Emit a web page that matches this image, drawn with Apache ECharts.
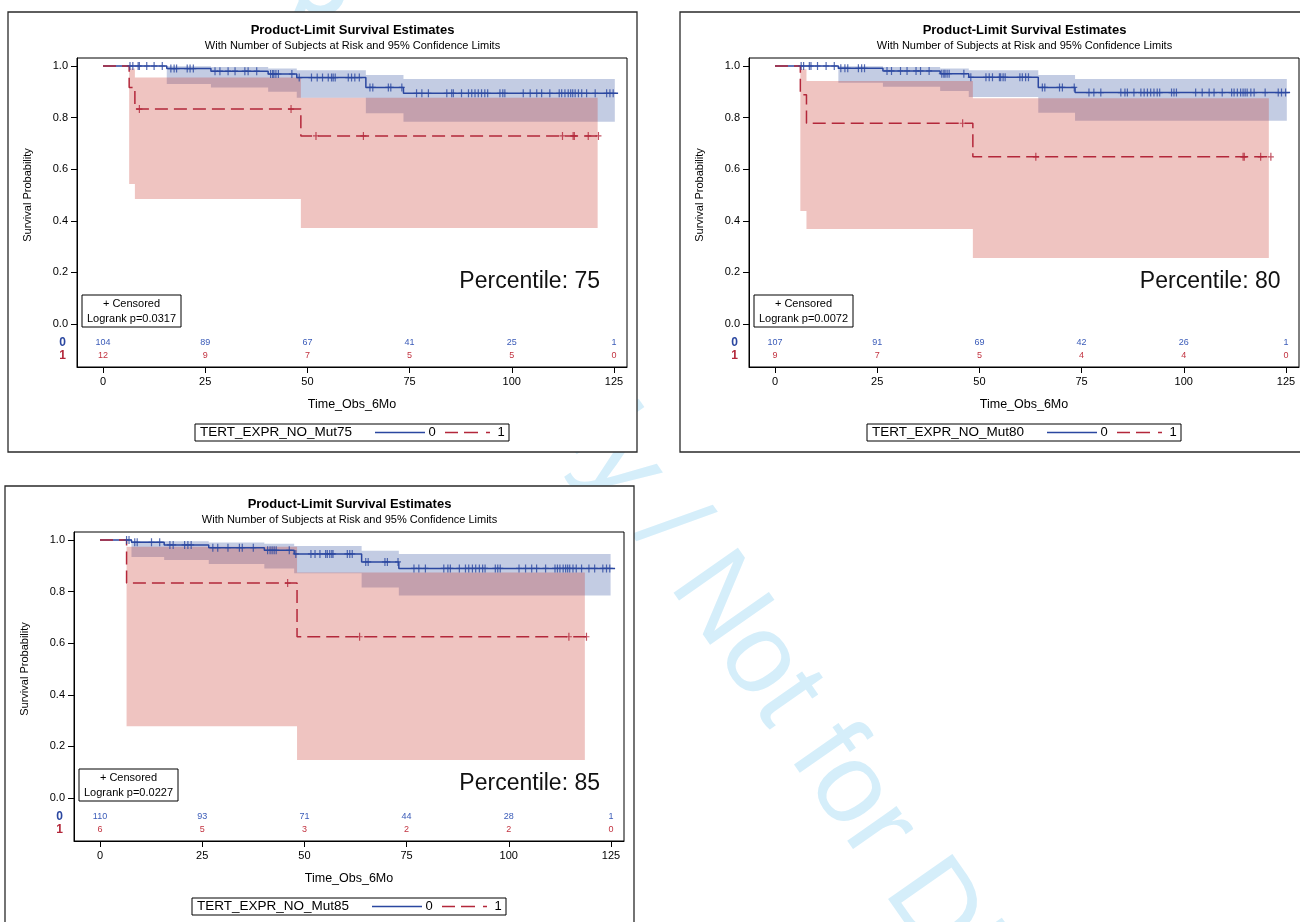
<!DOCTYPE html>
<html><head><meta charset="utf-8">
<script src="https://cdn.jsdelivr.net/npm/echarts@6/dist/echarts.min.js"></script>
<style>html,body{margin:0;padding:0;background:#fff}#c{width:1300px;height:922px}</style>
</head><body><div id="c"></div><script>
// ---------- shared axis data ----------
const xTicks = [0, 25, 50, 75, 100, 125];
const yTicks = [0, 0.2, 0.4, 0.6, 0.8, 1.0];
const riskGroups = ['0', '1'];
const xTitle = 'Time_Obs_6Mo';
const yTitle = 'Survival Probability';
const mainTitle = 'Product-Limit Survival Estimates';
const subTitle = 'With Number of Subjects at Risk and 95% Confidence Limits';
const watermarkA = 'For Peer Review Only / ';
const watermarkB = 'Not for Distribution';

// ---------- Panel A : Mut75 ----------
const a_legend = 'TERT_EXPR_NO_Mut75';
const a_logrank = 'Logrank p=0.0317';
const a_percentile = 'Percentile: 75';
const a_blueTime = [0, 15.6, 26.4, 40.4, 47.4, 64.3, 73.5, 126.0];
const a_blueSurv = [1.0, 0.990, 0.980, 0.969, 0.955, 0.917, 0.894, 0.894];
const a_blueBandStart = [15.6, 26.4, 40.4, 47.4, 64.3, 73.5];
const a_blueBandLow = [0.930, 0.917, 0.900, 0.877, 0.817, 0.784];
const a_blueBandUp = [0.999, 0.996, 0.990, 0.984, 0.965, 0.950];
const a_blueBandEnd = 125.2;
const a_redTime = [0, 6.4, 7.8, 48.4, 121.6];
const a_redSurv = [1.0, 0.917, 0.833, 0.729, 0.729];
const a_redBandStart = [6.4, 7.8, 48.4];
const a_redBandLow = [0.543, 0.484, 0.372];
const a_redBandUp = [0.990, 0.955, 0.877];
const a_redBandEnd = 121.0;
const a_blueCensor = [6.6, 7.3, 8.6, 8.9, 10.7, 12.5, 14.5, 16.6, 17.4, 18.0, 20.6, 21.3, 22.1, 27.4, 28.6, 30.6, 32.3, 34.7, 35.5, 37.6, 41.0, 41.5, 41.8, 42.3, 42.9, 46.2, 48.0, 51.0, 52.4, 53.7, 55.1, 55.9, 56.3, 56.8, 60.0, 60.8, 61.6, 62.7, 65.3, 66.0, 69.8, 70.4, 73.1, 76.7, 78.0, 79.6, 84.1, 85.3, 85.7, 87.7, 89.4, 90.2, 91.0, 91.8, 92.6, 93.4, 94.1, 97.1, 97.8, 98.3, 102.8, 104.5, 106.1, 107.3, 109.3, 111.6, 112.2, 113.0, 113.8, 114.4, 114.9, 115.5, 116.3, 117.1, 118.3, 120.4, 123.2, 124.0, 124.8];
const a_redCensor = [8.9, 46.0, 52.1, 63.7, 112.4, 115.0, 115.3, 118.7, 121.2];
const a_riskBlue = [104, 89, 67, 41, 25, 1];
const a_riskRed = [12, 9, 7, 5, 5, 0];

// ---------- Panel B : Mut80 ----------
const b_legend = 'TERT_EXPR_NO_Mut80';
const b_logrank = 'Logrank p=0.0072';
const b_percentile = 'Percentile: 80';
const b_blueTime = [0, 15.5, 26.4, 40.4, 47.4, 64.4, 73.4, 126.0];
const b_blueSurv = [1.0, 0.991, 0.981, 0.970, 0.956, 0.917, 0.897, 0.897];
const b_blueBandStart = [15.5, 26.4, 40.4, 47.4, 64.4, 73.4];
const b_blueBandLow = [0.935, 0.920, 0.903, 0.880, 0.819, 0.788];
const b_blueBandUp = [0.999, 0.996, 0.990, 0.984, 0.965, 0.950];
const b_blueBandEnd = 125.2;
const b_redTime = [0, 6.2, 7.7, 48.4, 121.5];
const b_redSurv = [1.0, 0.889, 0.778, 0.648, 0.648];
const b_redBandStart = [6.2, 7.7, 48.4];
const b_redBandLow = [0.438, 0.368, 0.256];
const b_redBandUp = [0.987, 0.942, 0.875];
const b_redBandEnd = 120.8;
const b_blueCensor = [6.4, 7.0, 8.4, 8.8, 10.4, 12.5, 14.5, 16.1, 17.1, 17.8, 20.4, 21.2, 21.9, 27.4, 28.5, 30.7, 32.3, 34.5, 35.6, 37.7, 40.8, 41.3, 41.6, 42.1, 42.6, 46.2, 47.9, 51.6, 52.4, 53.2, 54.9, 55.2, 55.8, 56.3, 59.9, 60.5, 61.3, 62.0, 65.4, 66.0, 69.6, 70.3, 73.2, 76.8, 78.0, 79.7, 84.6, 85.6, 86.2, 87.8, 89.5, 90.3, 91.1, 91.9, 92.7, 93.5, 94.1, 97.0, 97.6, 98.2, 102.9, 104.5, 106.2, 107.4, 109.4, 111.7, 112.3, 113.1, 113.9, 114.5, 115.0, 115.5, 116.4, 117.2, 119.9, 123.1, 123.9, 124.9];
const b_redCensor = [45.9, 63.8, 114.5, 114.8, 118.8, 121.3];
const b_riskBlue = [107, 91, 69, 42, 26, 1];
const b_riskRed = [9, 7, 5, 4, 4, 0];

// ---------- Panel C : Mut85 ----------
const c_legend = 'TERT_EXPR_NO_Mut85';
const c_logrank = 'Logrank p=0.0227';
const c_percentile = 'Percentile: 85';
const c_blueTime = [0, 7.7, 15.7, 26.6, 40.2, 47.5, 64.0, 73.1, 126.0];
const c_blueSurv = [1.0, 0.991, 0.981, 0.970, 0.960, 0.946, 0.915, 0.890, 0.890];
const c_blueBandStart = [7.7, 15.7, 26.6, 40.2, 47.5, 64.0, 73.1];
const c_blueBandLow = [0.934, 0.922, 0.907, 0.890, 0.871, 0.816, 0.785];
const c_blueBandUp = [0.996, 0.995, 0.990, 0.985, 0.977, 0.958, 0.946];
const c_blueBandEnd = 124.9;
const c_redTime = [0, 6.5, 48.2, 119.2];
const c_redSurv = [1.0, 0.833, 0.625, 0.625];
const c_redBandStart = [6.5, 48.2];
const c_redBandLow = [0.278, 0.147];
const c_redBandUp = [0.974, 0.874];
const c_redBandEnd = 118.6;
const c_blueCensor = [6.5, 7.1, 8.5, 9.1, 12.6, 14.6, 17.1, 17.9, 20.7, 21.5, 22.3, 27.6, 28.8, 31.3, 34.1, 34.8, 37.5, 41.0, 41.6, 42.1, 42.6, 43.1, 46.3, 47.9, 51.6, 52.6, 53.8, 55.2, 55.6, 56.2, 56.7, 57.0, 60.5, 61.1, 61.7, 65.0, 65.6, 69.7, 70.3, 72.9, 76.8, 78.0, 79.6, 84.1, 85.1, 85.7, 87.9, 89.4, 90.2, 91.1, 91.9, 92.8, 93.6, 94.2, 96.7, 97.3, 97.9, 102.5, 104.1, 105.6, 106.8, 109.0, 111.3, 111.9, 112.5, 113.3, 113.9, 114.4, 114.9, 115.7, 116.5, 117.8, 119.6, 121.0, 123.0, 123.9, 124.7];
const c_redCensor = [45.9, 63.5, 114.7, 119.0];
const c_riskBlue = [110, 93, 71, 44, 28, 1];
const c_riskRed = [6, 5, 3, 2, 2, 0];

// ---------- styling ----------
const FONT = '"Liberation Sans", Arial, Helvetica, sans-serif';
const FONTNAME = 'Liberation Sans';
const BLUE = '#2B47A0', RED = '#B3273A';
const BLUE_TXT = '#3A5BB8', RED_TXT = '#C23340';
const BLUE_BAND = 'rgba(60,90,165,0.31)', RED_BAND = 'rgba(200,50,40,0.29)';
const X_MIN = -6.36, X_MAX = 128.18, Y_MIN = -0.1667, Y_MAX = 1.031;
const PLUS = 'path://M2.4,0H3.6V3.4H6V4.6H3.6V8H2.4V4.6H0V3.4H2.4Z';

function survAt(times, surv, t) {
  let v = surv[0];
  for (let i = 0; i < times.length; i++) { if (times[i] <= t) v = surv[i]; }
  return v;
}
function txt(x, y, text, size, opt) {
  opt = opt || {};
  const al = opt.align || 'center';
  return { type: 'text', x: x, y: y, rotation: opt.rot || 0, z: opt.z == null ? 6 : opt.z, silent: true,
    style: { text: text, fill: opt.fill || '#000', font: (opt.bold ? 'bold ' : '') + size + 'px ' + FONT,
      align: al, verticalAlign: 'middle', textAlign: al, textVerticalAlign: 'middle' } };
}

const grids = [], xAxes = [], yAxes = [], series = [], graphics = [];

// watermark (behind panels)
const WM_ROT = -55 * Math.PI / 180;
graphics.push(txt(694, 567, watermarkB, 114, { align: 'left', rot: WM_ROT, fill: '#d5eefa', z: -20 }));
graphics.push(txt(694, 567, watermarkA, 114, { align: 'right', rot: WM_ROT, fill: '#d5eefa', z: -20 }));

function bandSeries(gi, starts, lows, ups, end, color) {
  return {
    type: 'custom', xAxisIndex: gi, yAxisIndex: gi, silent: true, z: 1,
    data: starts.map((s, i) => [s, lows[i], ups[i]]),
    encode: { x: 0, y: [1, 2] },
    renderItem: function (params, api) {
      if (params.dataIndex !== 0) return null;
      const pts = [];
      const n = starts.length;
      for (let i = 0; i < n; i++) {
        const e = i + 1 < n ? starts[i + 1] : end;
        pts.push(api.coord([starts[i], ups[i]]));
        pts.push(api.coord([e, ups[i]]));
      }
      for (let i = n - 1; i >= 0; i--) {
        const e = i + 1 < n ? starts[i + 1] : end;
        pts.push(api.coord([e, lows[i]]));
        pts.push(api.coord([starts[i], lows[i]]));
      }
      return { type: 'polygon', shape: { points: pts }, style: { fill: color } };
    }
  };
}

function addPanel(ox, oy, d, pctX, pctY) {
  const gMain = grids.length, gRisk = gMain + 1;
  const L = 77 + ox, T = 58 + oy, W = 550, H = 309;
  grids.push({ left: L, top: T, width: W, height: H, show: true, borderColor: '#000', borderWidth: 1, backgroundColor: 'transparent' });
  grids.push({ left: L, top: 336.5 + oy, width: W, height: 26, show: false });
  xAxes.push({ gridIndex: gMain, type: 'value', min: X_MIN, max: X_MAX, position: 'bottom',
    axisLine: { show: true, onZero: false, lineStyle: { color: '#000', width: 1 } },
    axisTick: { show: true, customValues: xTicks, length: 6, lineStyle: { color: '#000' } },
    axisLabel: { customValues: xTicks, fontSize: 11, color: '#000', margin: 9, fontFamily: FONTNAME },
    splitLine: { show: false },
    name: xTitle, nameLocation: 'middle', nameGap: 31,
    nameTextStyle: { fontSize: 12.5, color: '#000', fontFamily: FONTNAME } });
  xAxes.push({ gridIndex: gRisk, type: 'value', min: X_MIN, max: X_MAX, show: false, axisLine: { onZero: false } });
  yAxes.push({ gridIndex: gMain, type: 'value', min: Y_MIN, max: Y_MAX, position: 'left',
    axisLine: { show: true, onZero: false, lineStyle: { color: '#000', width: 1 } },
    axisTick: { show: true, customValues: yTicks, length: 6, lineStyle: { color: '#000' } },
    axisLabel: { customValues: yTicks, formatter: v => Number(v).toFixed(1), fontSize: 11, color: '#000', margin: 9, fontFamily: FONTNAME },
    splitLine: { show: false } });
  yAxes.push({ gridIndex: gRisk, type: 'category', data: riskGroups, inverse: true, position: 'left',
    axisLine: { show: false, onZero: false }, axisTick: { show: false }, splitLine: { show: false },
    axisLabel: { interval: 0, fontSize: 12, fontWeight: 'bold', margin: 11, fontFamily: FONTNAME,
      color: v => (v === '0' ? BLUE : RED) } });

  series.push(bandSeries(gMain, d.blueBandStart, d.blueBandLow, d.blueBandUp, d.blueBandEnd, BLUE_BAND));
  series.push(bandSeries(gMain, d.redBandStart, d.redBandLow, d.redBandUp, d.redBandEnd, RED_BAND));
  series.push({ type: 'line', xAxisIndex: gMain, yAxisIndex: gMain, step: 'end', symbol: 'none', silent: true, z: 3,
    data: d.blueTime.map((t, i) => [t, d.blueSurv[i]]), lineStyle: { color: BLUE, width: 1.5 } });
  series.push({ type: 'line', xAxisIndex: gMain, yAxisIndex: gMain, step: 'end', symbol: 'none', silent: true, z: 4,
    data: d.redTime.map((t, i) => [t, d.redSurv[i]]), lineStyle: { color: RED, width: 1.5, type: [13, 6] } });
  series.push({ type: 'scatter', xAxisIndex: gMain, yAxisIndex: gMain, symbol: PLUS, symbolSize: [6, 8], silent: true, z: 5,
    itemStyle: { color: BLUE }, data: d.blueCensor.map(t => [t, survAt(d.blueTime, d.blueSurv, t)]) });
  series.push({ type: 'scatter', xAxisIndex: gMain, yAxisIndex: gMain, symbol: PLUS, symbolSize: [6, 8], silent: true, z: 5,
    itemStyle: { color: RED }, data: d.redCensor.map(t => [t, survAt(d.redTime, d.redSurv, t)]) });
  const riskData = [];
  xTicks.forEach((t, i) => { riskData.push([t, 0, d.riskBlue[i]]); riskData.push([t, 1, d.riskRed[i]]); });
  series.push({ type: 'custom', xAxisIndex: gRisk, yAxisIndex: gRisk, silent: true, z: 5,
    data: riskData, encode: { x: 0, y: 1 },
    renderItem: function (params, api) {
      const g = api.value(1);
      const p = api.coord([api.value(0), g]);
      return { type: 'text', x: p[0], y: p[1],
        style: { text: String(api.value(2)), fill: g === 0 ? BLUE_TXT : RED_TXT, font: '9px ' + FONT,
          align: 'center', verticalAlign: 'middle', textAlign: 'center', textVerticalAlign: 'middle' } };
    } });

  // panel frame and texts
  graphics.push({ type: 'rect', z: -10, silent: true, shape: { x: 8 + ox, y: 12 + oy, width: 629, height: 440 },
    style: { fill: '#fff', stroke: '#2a2a2a', lineWidth: 1.3 } });
  graphics.push(txt(352.5 + ox, 30 + oy, mainTitle, 13, { bold: true }));
  graphics.push(txt(352.5 + ox, 46 + oy, subTitle, 11));
  graphics.push(txt(28 + ox, 195 + oy, yTitle, 11, { rot: Math.PI / 2 }));
  graphics.push(txt(pctX + ox, pctY + oy, d.percentile, 23, { align: 'right', fill: '#111' }));
  // censored / logrank box
  graphics.push({ type: 'rect', z: 5, silent: true, shape: { x: 82 + ox, y: 295 + oy, width: 99, height: 32 },
    style: { fill: '#fff', stroke: '#000', lineWidth: 1 } });
  graphics.push(txt(131.5 + ox, 304 + oy, '+ Censored', 11));
  graphics.push(txt(131.5 + ox, 318.5 + oy, d.logrank, 11));
  // legend
  graphics.push({ type: 'rect', z: 5, silent: true, shape: { x: 195 + ox, y: 424 + oy, width: 314, height: 17 },
    style: { fill: '#fff', stroke: '#000', lineWidth: 1 } });
  graphics.push(txt(200 + ox, 432.5 + oy, d.legend, 13.5, { align: 'left' }));
  graphics.push({ type: 'line', z: 6, silent: true, shape: { x1: 375 + ox, y1: 432.5 + oy, x2: 425 + ox, y2: 432.5 + oy },
    style: { stroke: BLUE, lineWidth: 1.5 } });
  graphics.push(txt(432 + ox, 432.5 + oy, '0', 13));
  graphics.push({ type: 'line', z: 6, silent: true, shape: { x1: 445 + ox, y1: 432.5 + oy, x2: 490 + ox, y2: 432.5 + oy },
    style: { stroke: RED, lineWidth: 1.5, lineDash: [13, 6, 14, 8, 4] } });
  graphics.push(txt(501 + ox, 432.5 + oy, '1', 13));
}

addPanel(0, 0, { legend: a_legend, logrank: a_logrank, percentile: a_percentile,
  blueTime: a_blueTime, blueSurv: a_blueSurv, blueBandStart: a_blueBandStart, blueBandLow: a_blueBandLow, blueBandUp: a_blueBandUp, blueBandEnd: a_blueBandEnd,
  redTime: a_redTime, redSurv: a_redSurv, redBandStart: a_redBandStart, redBandLow: a_redBandLow, redBandUp: a_redBandUp, redBandEnd: a_redBandEnd,
  blueCensor: a_blueCensor, redCensor: a_redCensor, riskBlue: a_riskBlue, riskRed: a_riskRed }, 600, 281.5);
addPanel(672, 0, { legend: b_legend, logrank: b_logrank, percentile: b_percentile,
  blueTime: b_blueTime, blueSurv: b_blueSurv, blueBandStart: b_blueBandStart, blueBandLow: b_blueBandLow, blueBandUp: b_blueBandUp, blueBandEnd: b_blueBandEnd,
  redTime: b_redTime, redSurv: b_redSurv, redBandStart: b_redBandStart, redBandLow: b_redBandLow, redBandUp: b_redBandUp, redBandEnd: b_redBandEnd,
  blueCensor: b_blueCensor, redCensor: b_redCensor, riskBlue: b_riskBlue, riskRed: b_riskRed }, 608.5, 281.5);
addPanel(-3, 474, { legend: c_legend, logrank: c_logrank, percentile: c_percentile,
  blueTime: c_blueTime, blueSurv: c_blueSurv, blueBandStart: c_blueBandStart, blueBandLow: c_blueBandLow, blueBandUp: c_blueBandUp, blueBandEnd: c_blueBandEnd,
  redTime: c_redTime, redSurv: c_redSurv, redBandStart: c_redBandStart, redBandLow: c_redBandLow, redBandUp: c_redBandUp, redBandEnd: c_redBandEnd,
  blueCensor: c_blueCensor, redCensor: c_redCensor, riskBlue: c_riskBlue, riskRed: c_riskRed }, 603, 310);

const chart = echarts.init(document.getElementById('c'), null, { renderer: 'canvas' });
chart.setOption({
  animation: false,
  backgroundColor: '#fff',
  textStyle: { fontFamily: FONTNAME },
  grid: grids, xAxis: xAxes, yAxis: yAxes, series: series,
  graphic: { elements: graphics }
});
</script></body></html>
